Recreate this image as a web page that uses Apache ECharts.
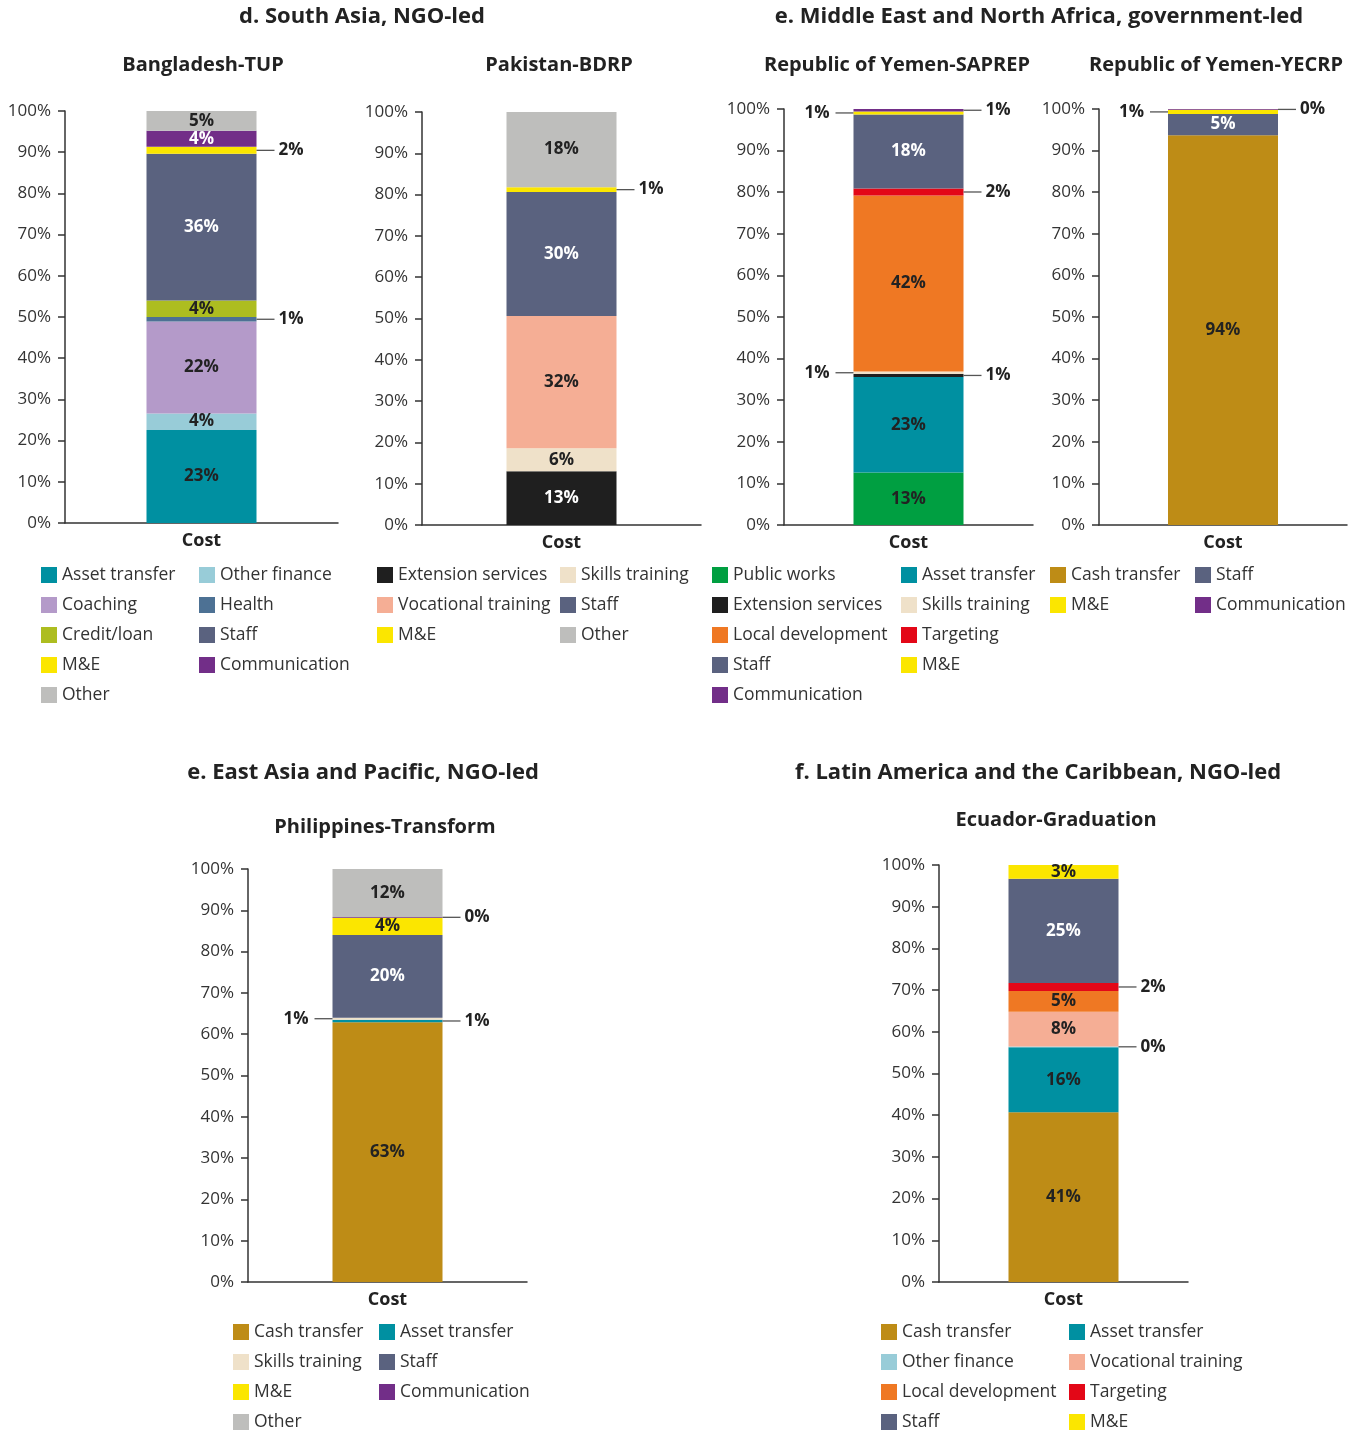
<!DOCTYPE html>
<html>
<head>
<meta charset="utf-8">
<script src="https://cdn.jsdelivr.net/npm/echarts@6/dist/echarts.min.js"></script>
<style>
  html, body { margin: 0; padding: 0; background: #ffffff; }
  #chart { width: 1359px; height: 1430px; }
</style>
</head>
<body>
<div id="chart"></div>
<script>
// ---------- data (share of programme cost, %, stacked bottom to top) ----------
const categories = ['Cost'];

// d. South Asia, NGO-led
const bangladeshNames = ['Asset transfer', 'Other finance', 'Coaching', 'Health', 'Credit/loan', 'Staff', 'M&E', 'Communication', 'Other'];
const bangladeshValues = [22.6, 4.0, 22.3, 1.1, 4.0, 35.6, 1.7, 3.9, 4.8];

const pakistanNames = ['Extension services', 'Skills training', 'Vocational training', 'Staff', 'M&E', 'Other'];
const pakistanValues = [13.0, 5.6, 32.0, 30.0, 1.2, 18.2];

// e. Middle East and North Africa, government-led
const saprepNames = ['Public works', 'Asset transfer', 'Extension services', 'Skills training', 'Local development', 'Targeting', 'Staff', 'M&E', 'Communication'];
const saprepValues = [12.6, 23.0, 0.7, 0.6, 42.3, 1.7, 17.8, 0.7, 0.6];

const yecrpNames = ['Cash transfer', 'Staff', 'M&E', 'Communication'];
const yecrpValues = [93.7, 5.1, 1.0, 0.2];

// e. East Asia and Pacific, NGO-led
const philippinesNames = ['Cash transfer', 'Asset transfer', 'Skills training', 'Staff', 'M&E', 'Communication', 'Other'];
const philippinesValues = [62.9, 0.6, 0.5, 20.0, 4.2, 0.2, 11.6];

// f. Latin America and the Caribbean, NGO-led
const ecuadorNames = ['Cash transfer', 'Asset transfer', 'Other finance', 'Vocational training', 'Local development', 'Targeting', 'Staff', 'M&E'];
const ecuadorValues = [40.7, 15.6, 0.2, 8.3, 5.0, 1.9, 25.0, 3.3];

// ---------- styling ----------
const FONT = '"Open Sans", "Noto Sans", sans-serif';

const segmentColors = {
  'Asset transfer': '#0090a1',
  'Other finance': '#98ccd8',
  'Coaching': '#b49ac9',
  'Health': '#4d7194',
  'Credit/loan': '#adbd20',
  'Staff': '#5a627f',
  'M&E': '#fbe600',
  'Communication': '#722e88',
  'Other': '#bebebc',
  'Extension services': '#1f1f1f',
  'Skills training': '#efe1c9',
  'Vocational training': '#f5ae95',
  'Public works': '#009f41',
  'Local development': '#ef7823',
  'Targeting': '#e30717',
  'Cash transfer': '#be8c16'
};
const lightTextSegments = ['Staff', 'Communication', 'Extension services'];

// where each segment's value label goes: inside the bar or as a callout
const bangladeshLabels = ['inside', 'inside', 'inside', 'right', 'inside', 'inside', 'right', 'inside', 'inside'];
const pakistanLabels = ['inside', 'inside', 'inside', 'inside', 'right', 'inside'];
const saprepLabels = ['inside', 'inside', 'right', 'left', 'inside', 'right', 'inside', 'left', 'right'];
const yecrpLabels = ['inside', 'inside', 'left', 'right'];
const philippinesLabels = ['inside', 'right', 'left', 'inside', 'inside', 'right', 'inside'];
const ecuadorLabels = ['inside', 'inside', 'right', 'inside', 'inside', 'right', 'inside', 'inside'];

// ---------- layout of the six panels ----------
const panels = [
  { names: bangladeshNames, values: bangladeshValues, labels: bangladeshLabels,
    grid: { left: 65, top: 111, width: 273, height: 412 }, legendTop: 566, legendCols: [41, 199] },
  { names: pakistanNames, values: pakistanValues, labels: pakistanLabels,
    grid: { left: 422, top: 112, width: 279, height: 413 }, legendTop: 566, legendCols: [377, 560] },
  { names: saprepNames, values: saprepValues, labels: saprepLabels,
    grid: { left: 784, top: 109, width: 249, height: 416 }, legendTop: 566, legendCols: [712, 901] },
  { names: yecrpNames, values: yecrpValues, labels: yecrpLabels,
    grid: { left: 1099, top: 109, width: 248, height: 416 }, legendTop: 566, legendCols: [1050, 1195] },
  { names: philippinesNames, values: philippinesValues, labels: philippinesLabels,
    grid: { left: 248, top: 869, width: 279, height: 413 }, legendTop: 1323, legendCols: [233, 379] },
  { names: ecuadorNames, values: ecuadorValues, labels: ecuadorLabels,
    grid: { left: 939, top: 865, width: 249, height: 417 }, legendTop: 1323, legendCols: [881, 1069] }
];

const headings = [
  { text: 'd. South Asia, NGO-led', x: 362, y: 17, size: 22 },
  { text: 'e. Middle East and North Africa, government-led', x: 1039, y: 17, size: 22 },
  { text: 'Bangladesh-TUP', x: 203, y: 65, size: 20 },
  { text: 'Pakistan-BDRP', x: 559, y: 65, size: 20 },
  { text: 'Republic of Yemen-SAPREP', x: 897, y: 65, size: 20 },
  { text: 'Republic of Yemen-YECRP', x: 1216, y: 65, size: 20 },
  { text: 'e. East Asia and Pacific, NGO-led', x: 363, y: 773, size: 22 },
  { text: 'f. Latin America and the Caribbean, NGO-led', x: 1038, y: 773, size: 22 },
  { text: 'Philippines-Transform', x: 385, y: 827, size: 20 },
  { text: 'Ecuador-Graduation', x: 1056, y: 820, size: 20 }
];

const axisLineStyle = { color: '#333333', width: 1.5 };

// callout labels: a short leader line next to the bar, then the value
const calloutRich = {
  ln: { width: 18, height: 1.3, backgroundColor: '#555555', verticalAlign: 'middle' },
  r: { fontFamily: FONT, fontSize: 17, fontWeight: 'bold', color: '#222222', padding: [0, 0, 0, 4], verticalAlign: 'middle' },
  l: { fontFamily: FONT, fontSize: 17, fontWeight: 'bold', color: '#222222', padding: [0, 6, 0, 0], verticalAlign: 'middle' }
};

const option = {
  animation: false,
  backgroundColor: '#ffffff',
  textStyle: { fontFamily: FONT },
  title: headings.map(h => ({
    text: h.text,
    left: h.x,
    top: h.y,
    padding: 0,
    textAlign: 'center',
    textVerticalAlign: 'middle',
    textStyle: { fontFamily: FONT, fontSize: h.size, fontWeight: 'bold', color: '#222222' }
  })),
  grid: [],
  xAxis: [],
  yAxis: [],
  legend: [],
  series: []
};

panels.forEach((p, i) => {
  option.grid.push(Object.assign({ containLabel: false }, p.grid));

  option.xAxis.push({
    type: 'category',
    gridIndex: i,
    data: categories,
    axisTick: { show: false },
    axisLine: { lineStyle: axisLineStyle },
    axisLabel: { fontFamily: FONT, fontWeight: 'bold', fontSize: 18, color: '#222222', margin: 9 }
  });

  option.yAxis.push({
    type: 'value',
    gridIndex: i,
    min: 0,
    max: 100,
    interval: 10,
    splitLine: { show: false },
    axisLine: { show: true, lineStyle: axisLineStyle },
    axisTick: { show: true, length: 7, lineStyle: axisLineStyle },
    axisLabel: { formatter: '{value}%', fontFamily: FONT, fontSize: 17, color: '#333333', margin: 14 }
  });

  p.names.forEach((name, j) => {
    const place = p.labels[j];
    const inside = place === 'inside';
    option.series.push({
      type: 'bar',
      name: name,
      xAxisIndex: i,
      yAxisIndex: i,
      stack: 'panel' + i,
      barWidth: 110,
      data: [p.values[j]],
      itemStyle: { color: segmentColors[name] },
      emphasis: { disabled: true },
      label: {
        show: true,
        position: place,
        distance: 0,
        formatter: d => {
          const v = Math.round(d.value) + '%';
          if (place === 'right') return '{ln|}{r|' + v + '}';
          if (place === 'left') return '{l|' + v + '}{ln|}';
          return v;
        },
        rich: calloutRich,
        fontFamily: FONT,
        fontSize: 17,
        fontWeight: 'bold',
        color: inside && lightTextSegments.includes(name) ? '#ffffff' : '#222222'
      }
    });
  });

  // legend laid out in two columns, row by row in stacking order
  p.legendCols.forEach((x, c) => {
    option.legend.push({
      orient: 'vertical',
      left: x,
      top: p.legendTop,
      height: 200,
      padding: 0,
      icon: 'rect',
      itemWidth: 16,
      itemHeight: 16,
      itemGap: 12,
      selectedMode: false,
      data: p.names.filter((n, k) => k % 2 === c),
      textStyle: { fontFamily: FONT, fontSize: 17.5, color: '#333333' }
    });
  });
});

const chart = echarts.init(document.getElementById('chart'), null, { renderer: 'canvas' });
chart.setOption(option);
</script>
</body>
</html>
